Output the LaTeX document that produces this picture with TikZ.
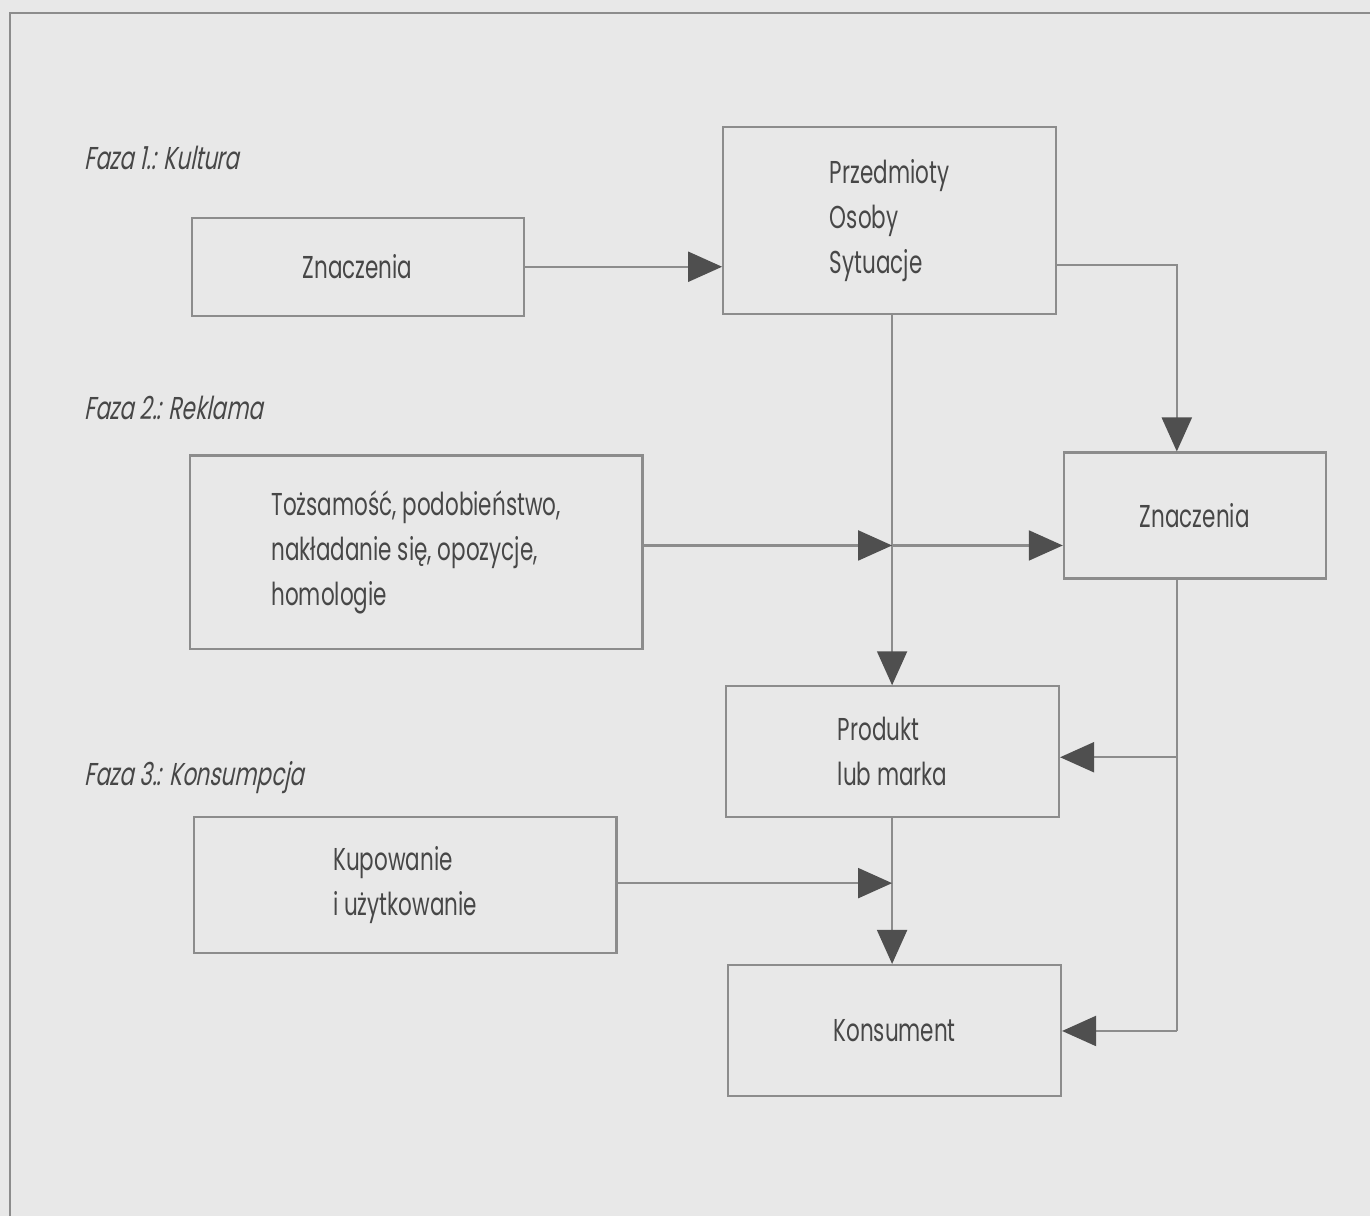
\documentclass[tikz,border=0pt]{standalone}
\usepackage{fontspec}
\setmainfont[FakeStretch=0.68]{Poppins}
\newfontfamily\phasefont[FakeStretch=0.68,FakeSlant=0.2]{Poppins}
\usetikzlibrary{arrows.meta}
\definecolor{paper}{HTML}{E8E8E8}
\definecolor{rule}{HTML}{8C8C8C}
\definecolor{ink}{HTML}{474747}
\definecolor{tipc}{HTML}{4F4F4F}
\begin{document}
\begin{tikzpicture}[x=0.01cm, y=-0.01cm,
    font=\fontsize{9}{12.8}\selectfont, text=ink,
    box/.style={draw=rule, line width=0.6pt, align=left, inner sep=0pt},
    phase/.style={anchor=west, font=\phasefont\fontsize{9}{12.8}\selectfont},
    plain/.style={draw=rule, line width=0.6pt},
    link/.style={plain, -{Triangle[length=3.4mm, width=3mm, color=tipc]}}]
    % Paper and frame
    \fill[paper] (0,0) rectangle (1371,1217);
    \draw[rule, line width=0.8pt] (1371,13) -- (10,13) -- (10,1217);
    % Phase labels
    \node[phase] (phase1) at (72,158) {Faza 1.: Kultura};
    \node[phase] (phase2) at (72,408) {Faza 2.: Reklama};
    \node[phase] (phase3) at (72,778) {Faza 3.: Konsumpcja};
    % Boxes
    \node[box, minimum width=3.32cm, minimum height=0.98cm] (zn1) at (358,267) {Znaczenia};
    \node[box, minimum width=3.33cm, minimum height=1.87cm] (obj) at (890.5,220.5) {Przedmioty\\Osoby\\Sytuacje};
    \node[box, minimum width=4.53cm, minimum height=1.94cm] (ident) at (416.5,553) {Tożsamość, podobieństwo,\\nakładanie się, opozycje,\\homologie};
    \node[box, minimum width=2.62cm, minimum height=1.26cm] (zn2) at (1196,516) {Znaczenia};
    \node[box, minimum width=3.33cm, minimum height=1.31cm] (prod) at (893.5,752.5) {Produkt\\lub marka};
    \node[box, minimum width=4.23cm, minimum height=1.36cm] (buy) at (405.5,886) {Kupowanie\\i użytkowanie};
    \node[box, minimum width=3.33cm, minimum height=1.31cm] (cons) at (895.5,1031.5) {Konsument};
    % Junctions and rail
    \coordinate (rail) at (1178,265);
    \coordinate (j1) at (893,546);
    \coordinate (j2) at (893,884);
    \coordinate (r1) at (1178,758);
    \coordinate (r2) at (1178,1032);
    % Connectors
    \draw[link] (zn1.east) -- (zn1.east -| obj.west);
    \draw[link] (j1 |- obj.south) -- (j1 |- prod.north);
    \draw[link] (obj.east |- rail) -- (rail) -- (rail |- zn2.north);
    \draw[link] (ident.east |- j1) -- (j1);
    \draw[link] (j1) -- (j1 -| zn2.west);
    \draw[plain] (rail |- zn2.south) -- (r1) -- (r2);
    \draw[link] (r1) -- (r1 -| prod.east);
    \draw[link] (r2) -- (r2 -| cons.east);
    \draw[link] (j2 |- prod.south) -- (j2 |- cons.north);
    \draw[link] (buy.east |- j2) -- (j2);
\end{tikzpicture}
\end{document}
